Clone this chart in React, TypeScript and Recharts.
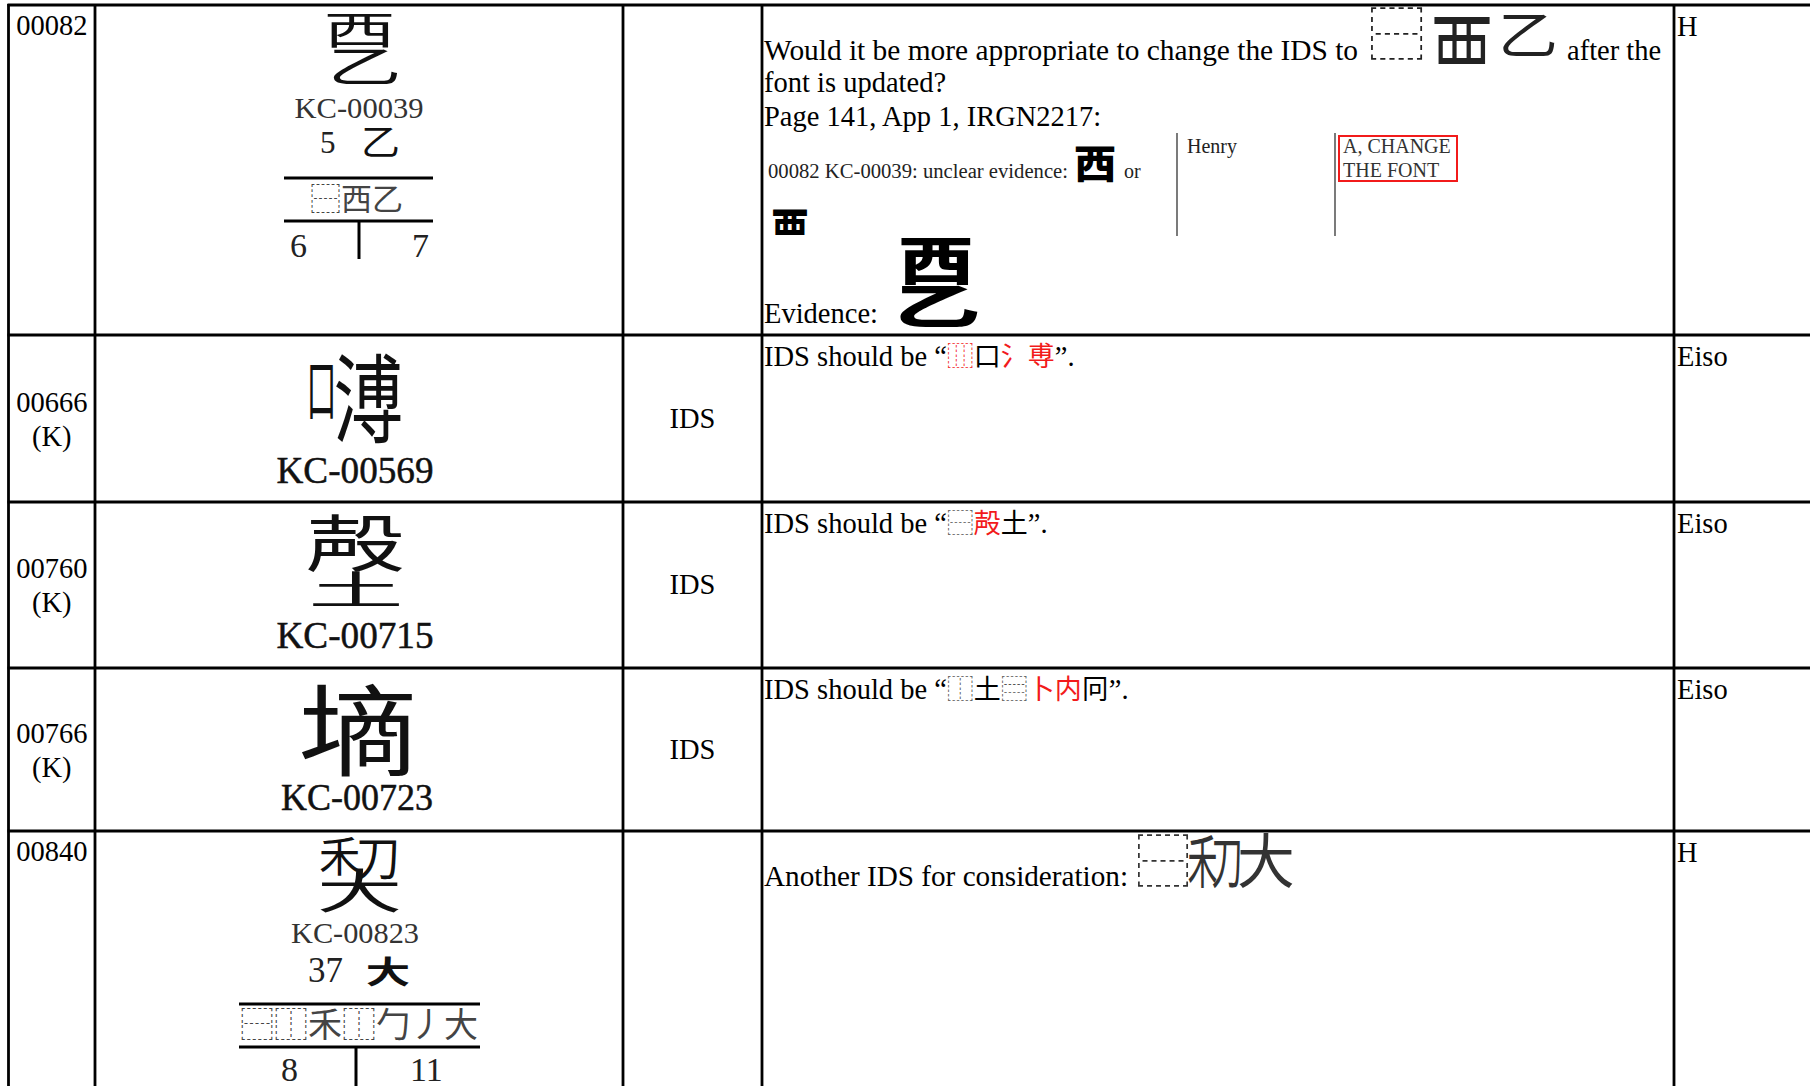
import React from "react";
import { ScatterChart, Scatter, XAxis, YAxis, ReferenceLine, ReferenceArea } from "recharts";

const W = 1810;
const H = 1086;
const SERIF = "'Liberation Serif', 'Times New Roman', serif";
const CJK = "'Noto Sans CJK TC', 'Noto Sans CJK KR', sans-serif";
const RED = "#f21b1b";
const GREY = "#555";

// table content
const serials = ["00082", "00666", "00760", "00766", "00840"];
const sourceTags = ["", "(K)", "(K)", "(K)", ""];
const sourceRefs = ["KC-00039", "KC-00569", "KC-00715", "KC-00723", "KC-00823"];
const glyphParts = [["西", "乙"], ["口", "溥"], ["殸", "土"], ["墒"], ["禾", "刀", "大"]];
const radicalNums = ["5", "", "", "", "37"];
const radicalChars = ["乙", "", "", "", "大"];
const idsStrings = ["⿱西乙", "", "", "", "⿱⿰禾⿰勹丿大"];
const firstStrokes = ["6", "", "", "", "8"];
const totalStrokes = ["7", "", "", "", "11"];
const commentTypes = ["", "IDS", "IDS", "IDS", ""];
const reviewers = ["H", "Eiso", "Eiso", "Eiso", "H"];

const proposalText = "Would it be more appropriate to change the IDS to";
const proposalIds = ["⿱", "覀", "乙"];
const proposalTail = "after the";
const proposalLines = ["font is updated?", "Page 141, App 1, IRGN2217:"];
const insetNote = "00082 KC-00039: unclear evidence:";
const insetGlyphs = ["西", "覀"];
const insetOr = "or";
const insetReviewer = "Henry";
const insetAction = ["A, CHANGE", "THE FONT"];
const evidenceLabel = "Evidence:";
const evidenceGlyph = ["西", "乙"];
const idsFixes: [string, string][][] = [
  [["IDS should be “", ""], ["⿲", "red"], ["口", ""], ["氵", "red"], ["尃", "red"], ["”.", ""]],
  [["IDS should be “", ""], ["⿱", "grey"], ["殸", "red"], ["土", ""], ["”.", ""]],
  [["IDS should be “", ""], ["⿰", "grey"], ["土", ""], ["⿳", "grey"], ["卜", "red"], ["内", "red"], ["冋", ""], ["”.", ""]],
];
const considerLabel = "Another IDS for consideration:";
const considerIds = ["⿱", "禾", "刀", "大"];

// layout
const colEdges = [8.5, 95, 623, 762, 1674];
const rowEdges = [5, 335, 502, 668, 831];
const rowEnds = [335, 502, 668, 831, H];
const glyphCenter = 359;
// ink boxes [dx, dy, w, h] from (glyphCenter, row top)
const glyphBoxes = [
  [[-32, 7, 65, 35], [-28, 42, 67, 38]],
  [[-51, 25, 27, 60], [-22, 20, 63, 87]],
  [[-48, 13, 89, 56], [-46, 70, 86, 35]],
  [[-55, 17, 108, 90]],
  [[-38, 6, 37, 38], [-1, 5, 40, 42], [-38, 38, 77, 42]],
];
// vertical share of the em box that a glyph's ink fills, where it is not the usual one
const inkRange: Record<string, number[]> = { "覀": [0.04, 0.46] };
// [centre x, baseline, size, width]
const refLayout = [
  [359, 118, 30, 129],
  [355, 483, 38, 157],
  [355, 648, 38, 157],
  [357, 810, 38, 152],
  [355, 943, 30, 128],
];
// radical / ids / stroke card for rows 0 and 4
const cardLayout: Record<number, any> = {
  0: { num: [320, 153, 31], rad: [363, 125, 35, 32, 400], rules: [178, 221, 259], span: [284, 433], split: 359, ids: [310, 210, 31], strokes: [290, 412, 257, 34] },
  4: { num: [308, 982, 35], rad: [368, 957, 40, 28, 700], rules: [1004, 1047, H], span: [239, 480], split: 356, ids: [240, 1037, 34], strokes: [281, 410, 1081, 34] },
};

type Mark = { x: number; y: number; kind: string; [k: string]: any };

const marks: Mark[] = [];
const rules: { seg: number[]; w: number; c: string }[] = [];

rowEdges.forEach((top, i) => {
  const mid = (top + rowEnds[i]) / 2;
  const c0 = (colEdges[0] + colEdges[1]) / 2;
  if (sourceTags[i]) {
    marks.push({ x: c0, y: mid - 7, kind: "text", text: serials[i], size: 28.5, anchor: "middle" });
    marks.push({ x: c0, y: mid + 27, kind: "text", text: sourceTags[i], size: 28.5, anchor: "middle" });
  } else {
    marks.push({ x: c0, y: top + 30, kind: "text", text: serials[i], size: 28.5, anchor: "middle" });
  }

  glyphParts[i].forEach((ch, j) => {
    const [dx, dy, w, h] = glyphBoxes[i][j];
    marks.push({ x: glyphCenter + dx, y: top + dy, kind: "glyph", text: ch, w, h, fill: "#111" });
  });

  const [rx, ry, rs, rw] = refLayout[i];
  marks.push({ x: rx, y: ry, kind: "text", text: sourceRefs[i], size: rs, anchor: "middle", fit: rw, fill: i % 4 ? "#111" : "#333", stroke: i % 4 ? 0.5 : 0 });

  const card = cardLayout[i];
  if (card) {
    marks.push({ x: card.num[0], y: card.num[1], kind: "text", text: radicalNums[i], size: card.num[2], fill: "#222" });
    const [gx, gy, gw, gh, gwt] = card.rad;
    marks.push({ x: gx, y: gy, kind: "glyph", text: radicalChars[i], w: gw, h: gh, weight: gwt, fill: "#111" });
    marks.push({ x: card.ids[0], y: card.ids[1], kind: "text", text: idsStrings[i], size: card.ids[2], font: CJK, fill: "#444" });
    const [s1, s2, sy, ss] = card.strokes;
    marks.push({ x: s1, y: sy, kind: "text", text: firstStrokes[i], size: ss, fill: "#222" });
    marks.push({ x: s2, y: sy, kind: "text", text: totalStrokes[i], size: ss, fill: "#222" });
    rules.push({ seg: [card.span[0], card.rules[0], card.span[1], card.rules[0]], w: 3.2, c: "#000" });
    rules.push({ seg: [card.span[0], card.rules[1], card.span[1], card.rules[1]], w: 3.2, c: "#000" });
    rules.push({ seg: [card.split, card.rules[1], card.split, card.rules[2]], w: 3, c: "#000" });
  }

  if (commentTypes[i]) {
    marks.push({ x: (colEdges[2] + colEdges[3]) / 2, y: mid + 9, kind: "text", text: commentTypes[i], size: 28.5, anchor: "middle" });
    marks.push({ x: colEdges[3] + 2, y: top + 31, kind: "runs", runs: idsFixes[i - 1] });
  }

  marks.push({ x: colEdges[4] + 3, y: top + 31, kind: "text", text: reviewers[i], size: 28.5 });
});

// first row comment
marks.push({ x: 764, y: 60, kind: "text", text: proposalText, size: 28.5, fit: 594 });
[[1371, 8, 51, 51], [1433, 12, 58, 46], [1501, 12, 54, 46]].forEach(([x, y, w, h], j) =>
  marks.push({ x, y, kind: "glyph", text: proposalIds[j], w, h, fill: "#222" })
);
marks.push({ x: 1567, y: 60, kind: "text", text: proposalTail, size: 28.5 });
proposalLines.forEach((t, j) => marks.push({ x: 764, y: 92 + j * 34, kind: "text", text: t, size: 28.5 }));
marks.push({ x: 768, y: 178, kind: "text", text: insetNote, size: 20, fit: 300, fill: "#222" });
marks.push({ x: 1076, y: 146, kind: "glyph", text: insetGlyphs[0], w: 38, h: 35, weight: 900, fill: "#000" });
marks.push({ x: 1124, y: 178, kind: "text", text: insetOr, size: 20, fill: "#222" });
marks.push({ x: 773, y: 209, kind: "glyph", text: insetGlyphs[1], w: 34, h: 22, weight: 900, fill: "#000" });
marks.push({ x: 1187, y: 153, kind: "text", text: insetReviewer, size: 20, fill: "#222" });
insetAction.forEach((t, j) => marks.push({ x: 1343, y: 153 + j * 24, kind: "text", text: t, size: 20, fill: "#333" }));
rules.push({ seg: [1177, 133, 1177, 236], w: 1.3, c: "#333" });
rules.push({ seg: [1335, 133, 1335, 236], w: 1.3, c: "#333" });
marks.push({ x: 764, y: 323, kind: "text", text: evidenceLabel, size: 28.5 });
marks.push({ x: 902, y: 238, kind: "glyph", text: evidenceGlyph[0], w: 68, h: 46, weight: 900, fill: "#000" });
marks.push({ x: 898, y: 284, kind: "glyph", text: evidenceGlyph[1], w: 78, h: 43, weight: 900, fill: "#000" });

// last row comment
marks.push({ x: 764, y: 886, kind: "text", text: considerLabel, size: 28.5, fit: 364 });
[[1138, 835, 50, 51], [1189, 835, 27, 52], [1213, 836, 28, 51], [1240, 834, 52, 53]].forEach(([x, y, w, h], j) =>
  marks.push({ x, y, kind: "glyph", text: considerIds[j], w, h, fill: "#333" })
);

// table rules
rowEdges.forEach((y) => rules.push({ seg: [colEdges[0] - 1, y, W, y], w: 2.8, c: "#000" }));
colEdges.forEach((x) => rules.push({ seg: [x, rowEdges[0] - 1, x, H], w: 2.8, c: "#000" }));

const isCjk = (t: string) => /[\u2e80-\u9fff]/.test(t);

function MarkShape(props: any) {
  const { cx, cy, payload: m } = props;
  if (cx == null || cy == null || !m) return <g />;
  if (m.kind === "glyph") {
    const [a, b] = inkRange[m.text] ?? [0.05, 0.95];
    const ew = m.w / 0.9;
    const eh = m.h / (b - a);
    const S = 100;
    return (
      <text
        transform={`translate(${cx - ew * 0.05},${cy - eh * a}) scale(${ew / S},${eh / S})`}
        x={0}
        y={88}
        fontSize={S}
        fontFamily={CJK}
        fontWeight={m.weight ?? 400}
        fill={m.fill ?? "#111"}
      >
        {m.text}
      </text>
    );
  }
  if (m.kind === "runs") {
    return (
      <text x={cx} y={cy} fontFamily={SERIF} fontSize={28.5} fill="#000">
        {m.runs.map(([t, tone]: [string, string], i: number) => (
          <tspan
            key={i}
            fontFamily={isCjk(t) ? CJK : SERIF}
            fontSize={isCjk(t) ? 27 : 28.5}
            fill={tone === "red" ? RED : tone === "grey" ? GREY : "#000"}
          >
            {t}
          </tspan>
        ))}
      </text>
    );
  }
  return (
    <text
      x={cx}
      y={cy}
      fontFamily={m.font ?? SERIF}
      fontSize={m.size}
      textAnchor={m.anchor ?? "start"}
      fill={m.fill ?? "#000"}
      stroke={m.stroke ? m.fill : "none"}
      strokeWidth={m.stroke || 0}
      textLength={m.fit}
      lengthAdjust={m.fit ? "spacingAndGlyphs" : undefined}
    >
      {m.text}
    </text>
  );
}

export default function App() {
  return (
    <div style={{ position: "absolute", left: 0, top: 0, width: W, height: H, background: "#fff" }}>
      <ScatterChart width={W} height={H} margin={{ top: 0, right: 0, bottom: 0, left: 0 }}>
        <XAxis type="number" dataKey="x" domain={[0, W]} hide allowDataOverflow />
        <YAxis type="number" dataKey="y" domain={[0, H]} reversed hide allowDataOverflow />
        {rules.map((r, i) => (
          <ReferenceLine
            key={i}
            segment={[{ x: r.seg[0], y: r.seg[1] }, { x: r.seg[2], y: r.seg[3] }]}
            stroke={r.c}
            strokeWidth={r.w}
            ifOverflow="visible"
          />
        ))}
        <ReferenceArea x1={1339} x2={1457} y1={136} y2={181} fill="none" stroke={RED} strokeWidth={2} ifOverflow="visible" />
        <Scatter data={marks} shape={(p: any) => <MarkShape {...p} />} isAnimationActive={false} />
      </ScatterChart>
    </div>
  );
}
